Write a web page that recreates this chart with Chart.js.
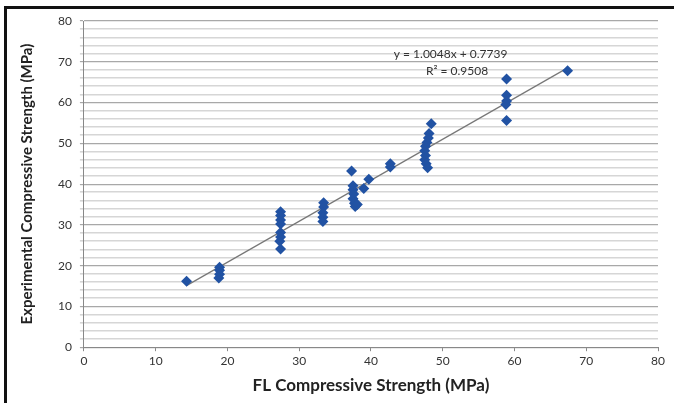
<!DOCTYPE html>
<html>
<head>
<meta charset="utf-8">
<script src="https://cdn.jsdelivr.net/npm/chart.js@4"></script>
<style>
  html, body { margin: 0; padding: 0; background: #fff; }
  #wrap { width: 674px; height: 403px; position: relative; }
</style>
</head>
<body>
<div id="wrap"><canvas id="scatter" width="674" height="403"></canvas></div>
<script>
// FL (model) vs experimental compressive strength, MPa
const flStrength = [
  14.3,
  18.9, 18.9, 18.9, 18.8,
  27.4, 27.4, 27.4, 27.4, 27.4, 27.4, 27.3, 27.4,
  33.4, 33.4, 33.3, 33.3, 33.3,
  37.3, 37.5, 37.5, 37.6, 37.5, 37.7, 37.8, 38.1,
  39.0, 39.7,
  42.7, 42.7,
  48.4, 48.1, 48.0, 47.8, 47.6, 47.5, 47.6, 47.5, 47.7, 47.9,
  58.9, 58.9, 58.9, 58.8, 58.9,
  67.4
];
const expStrength = [
  16.2,
  19.6, 18.9, 17.9, 17.0,
  33.2, 32.3, 31.2, 30.2, 28.1, 27.0, 26.0, 24.1,
  35.4, 34.4, 33.0, 31.9, 30.8,
  43.2, 39.6, 38.6, 37.6, 36.4, 35.3, 34.5, 35.0,
  38.9, 41.2,
  45.0, 44.2,
  54.8, 52.4, 51.3, 50.2, 49.3, 48.2, 47.0, 46.0, 45.0, 44.0,
  65.8, 61.8, 60.4, 59.5, 55.6,
  67.8
];

// linear trendline end points, and the Excel label
const trendX = [14.3, 67.4];
const trendY = [15.1, 68.5];
const trendLabel = ['y = 1.0048x + 0.7739', 'R\u00b2 = 0.9508'];

const fontFamily = 'Lato, "Open Sans", sans-serif';

const labelPlugin = {
  id: 'trendLabel',
  afterDatasetsDraw(chart) {
    const { ctx, scales } = chart;
    ctx.save();
    ctx.fillStyle = '#333';
    ctx.font = '12px ' + fontFamily;
    ctx.textAlign = 'center';
    ctx.textBaseline = 'middle';
    ctx.fillText(trendLabel[0], scales.x.getPixelForValue(51.1), scales.y.getPixelForValue(71.8));
    ctx.fillText(trendLabel[1], scales.x.getPixelForValue(52.0), scales.y.getPixelForValue(67.6));
    ctx.restore();
  },
};

const framePlugin = {
  id: 'frame',
  afterDraw(chart) {
    const { ctx, width, height } = chart;
    ctx.save();
    ctx.strokeStyle = '#111';
    ctx.lineWidth = 3;
    ctx.beginPath();
    ctx.moveTo(width, 7.5);
    ctx.lineTo(5.5, 7.5);
    ctx.lineTo(5.5, height);
    ctx.stroke();
    ctx.restore();
  },
};

new Chart(document.getElementById('scatter'), {
  type: 'scatter',
  data: {
    datasets: [
      {
        label: 'Data',
        data: flStrength.map((x, i) => ({ x: x, y: expStrength[i] })),
        pointStyle: 'rectRot',
        pointRadius: 5.5,
        backgroundColor: '#2152a3',
        borderColor: '#2152a3',
        borderWidth: 0,
        order: 1,
      },
      {
        type: 'line',
        label: 'Trend',
        data: trendX.map((x, i) => ({ x: x, y: trendY[i] })),
        borderColor: '#777',
        borderWidth: 1.2,
        pointRadius: 0,
        fill: false,
        order: 2,
      },
    ],
  },
  options: {
    responsive: false,
    animation: false,
    layout: { padding: { left: 18, top: 21, right: 16, bottom: 7 } },
    plugins: {
      legend: { display: false },
      tooltip: { enabled: false },
    },
    scales: {
      x: {
        type: 'linear',
        min: 0,
        max: 80,
        ticks: { stepSize: 10, color: '#333', font: { family: fontFamily, size: 12 }, padding: 3 },
        grid: { drawOnChartArea: false, drawTicks: true, tickLength: 4, color: '#888' },
        border: { color: '#888' },
        title: {
          display: true,
          text: 'FL Compressive Strength (MPa)',
          color: '#222',
          font: { family: fontFamily, size: 17, weight: 'bold' },
          padding: { top: 4, bottom: 0 },
        },
      },
      y: {
        min: 0,
        max: 80,
        ticks: {
          stepSize: 2,
          autoSkip: false,
          color: '#333',
          font: { family: fontFamily, size: 12 },
          padding: 8,
          callback: (v) => (v % 10 === 0 ? v : ''),
        },
        grid: {
          color: (c) => (c.tick && c.tick.value % 10 === 0 ? '#a8a8a8' : '#d6d6d6'),
          lineWidth: (c) => (c.tick && c.tick.value % 10 === 0 ? 1.2 : 1.6),
          tickLength: 4,
        },
        border: { color: '#888' },
        title: {
          display: true,
          text: 'Experimental Compressive Strength (MPa)',
          color: '#222',
          font: { family: fontFamily, size: 15, weight: 'bold' },
          padding: { top: 0, bottom: 14 },
        },
      },
    },
  },
  plugins: [labelPlugin, framePlugin],
});
</script>
</body>
</html>
